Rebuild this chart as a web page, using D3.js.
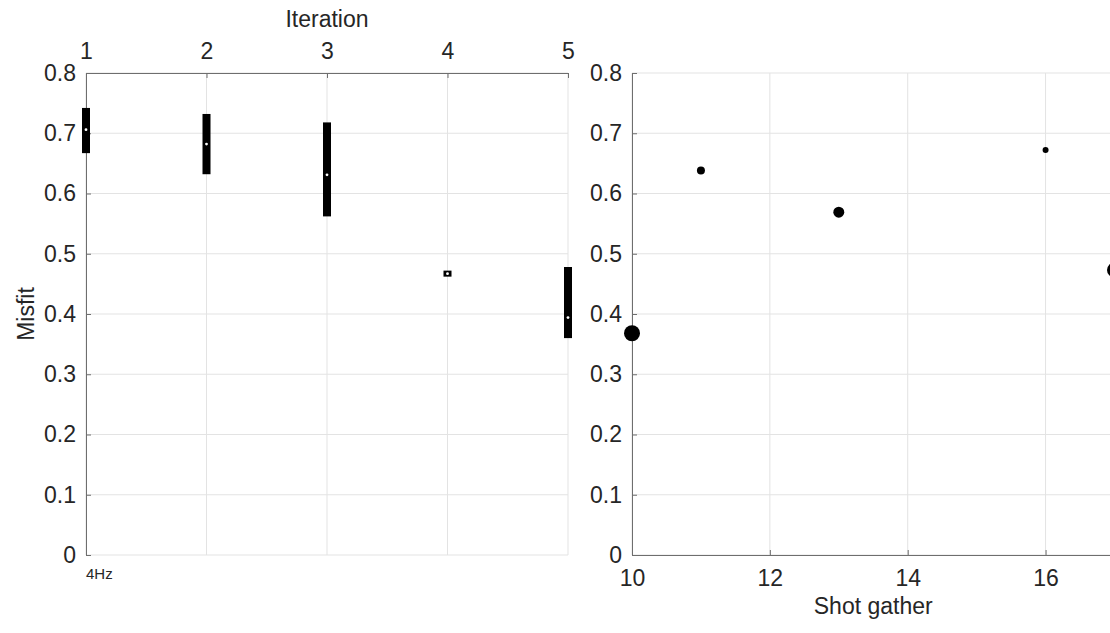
<!DOCTYPE html>
<html>
<head>
<meta charset="UTF-8" />
<script src="https://d3js.org/d3.v7.min.js"></script>
<style>
body { margin: 0px; background: #fff; }
text { font-family: "Liberation Sans", Arial, sans-serif; fill: #262626; }
</style>
</head>
<body>
<svg id="chart" width="1110" height="633"></svg>
<script>
// left panel: misfit spread per iteration (compact box)
const iterations = [1, 2, 3, 4, 5];
const boxLow = [0.667, 0.632, 0.562, 0.462, 0.360];
const boxHigh = [0.742, 0.732, 0.718, 0.472, 0.478];
const boxMedian = [0.706, 0.682, 0.631, 0.467, 0.394];

// right panel: misfit per shot gather, dot area = weight
const shots = [10, 11, 13, 16, 17];
const shotMisfit = [0.368, 0.638, 0.569, 0.672, 0.473];
const shotWeight = [64, 16, 30, 9, 56];

const misfitTicks = [0, 0.1, 0.2, 0.3, 0.4, 0.5, 0.6, 0.7, 0.8];
const iterTicks = [1, 2, 3, 4, 5];
const shotTicks = [10, 12, 14, 16];

const svg = d3.select("#chart");
const fontSize = 23;
const gridColor = "#e3e3e3";
const axisColor = "#6e6e6e";

let yTop = 73, yBottom = 555;
let y = d3.scaleLinear().domain([0, 0.8]).range([yBottom, yTop]);
let fmt = d => d === 0 ? "0" : d3.format(".1f")(d);

// ---- left panel ----
let xIter = d3.scaleLinear().domain([1, 5]).range([86, 568]);
let left = svg.append("g");

// grid
left.selectAll(".gx").data(iterTicks).enter().append("line")
    .attr("x1", d => xIter(d)).attr("x2", d => xIter(d))
    .attr("y1", yTop).attr("y2", yBottom)
    .attr("stroke", gridColor);
left.selectAll(".gy").data(misfitTicks).enter().append("line")
    .attr("x1", xIter(1)).attr("x2", xIter(5))
    .attr("y1", d => y(d)).attr("y2", d => y(d))
    .attr("stroke", gridColor);

let styleAxis = (g) => {
    g.selectAll("path").attr("stroke", axisColor);
    g.selectAll("line").attr("stroke", axisColor);
    g.selectAll("text").attr("font-size", fontSize).attr("fill", "#262626")
        .style("font-family", "'Liberation Sans', Arial, sans-serif");
};

let topAxis = left.append("g").attr("transform", `translate(0,${yTop})`)
    .call(d3.axisTop(xIter).tickValues(iterTicks).tickFormat(d3.format("d"))
        .tickSizeInner(-5).tickSizeOuter(0).tickPadding(14));
styleAxis(topAxis);

let leftAxis = left.append("g").attr("transform", `translate(${xIter(1)},0)`)
    .call(d3.axisLeft(y).tickValues(misfitTicks).tickFormat(fmt)
        .tickSizeInner(-5).tickSizeOuter(0).tickPadding(10));
styleAxis(leftAxis);

// boxes
let boxes = iterations.map((it, i) => ({it, lo: boxLow[i], hi: boxHigh[i], med: boxMedian[i]}));
left.selectAll(".box").data(boxes).enter().append("rect")
    .attr("x", d => xIter(d.it) - 4).attr("width", 8)
    .attr("y", d => y(d.hi)).attr("height", d => y(d.lo) - y(d.hi))
    .attr("fill", "#000");
left.selectAll(".med").data(boxes).enter().append("circle")
    .attr("cx", d => xIter(d.it)).attr("cy", d => y(d.med))
    .attr("r", 1.4).attr("fill", "#fff");

left.append("text").attr("x", (xIter(1) + xIter(5)) / 2).attr("y", 27)
    .attr("text-anchor", "middle").attr("font-size", fontSize).text("Iteration");
left.append("text").attr("x", xIter(1)).attr("y", 579)
    .attr("font-size", 15).text("4Hz");
left.append("text").attr("transform", `translate(34,${(yTop + yBottom) / 2}) rotate(-90)`)
    .attr("text-anchor", "middle").attr("font-size", fontSize).text("Misfit");

// ---- right panel ----
let xShot = d3.scaleLinear().domain([10, 17]).range([632, 1114.5]);
let right = svg.append("g");

right.selectAll(".gx").data(shotTicks).enter().append("line")
    .attr("x1", d => xShot(d)).attr("x2", d => xShot(d))
    .attr("y1", yTop).attr("y2", yBottom)
    .attr("stroke", gridColor);
right.selectAll(".gy").data(misfitTicks).enter().append("line")
    .attr("x1", xShot(10)).attr("x2", xShot(17))
    .attr("y1", d => y(d)).attr("y2", d => y(d))
    .attr("stroke", gridColor);

let bottomAxis = right.append("g").attr("transform", `translate(0,${yBottom})`)
    .call(d3.axisBottom(xShot).tickValues(shotTicks).tickFormat(d3.format("d"))
        .tickSizeInner(-5).tickSizeOuter(0).tickPadding(15));
styleAxis(bottomAxis);

let rightAxis = right.append("g").attr("transform", `translate(${xShot(10)},0)`)
    .call(d3.axisLeft(y).tickValues(misfitTicks).tickFormat(fmt)
        .tickSizeInner(-5).tickSizeOuter(0).tickPadding(10));
styleAxis(rightAxis);

let r = d3.scaleSqrt().domain([0, 64]).range([0, 8]);
right.selectAll(".dot").data(shots).enter().append("circle")
    .attr("cx", d => xShot(d))
    .attr("cy", (d, i) => y(shotMisfit[i]))
    .attr("r", (d, i) => r(shotWeight[i]))
    .attr("fill", "#000");

right.append("text").attr("x", (xShot(10) + xShot(17)) / 2).attr("y", 614)
    .attr("text-anchor", "middle").attr("font-size", fontSize).text("Shot gather");
</script>
</body>
</html>
